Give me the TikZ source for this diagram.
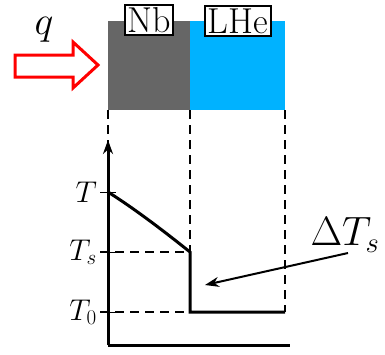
\RequirePackage{fix-cm}
\documentclass[tikz,border=0pt]{standalone}
\usetikzlibrary{arrows.meta}
\definecolor{nbgray}{RGB}{102,102,102}
\definecolor{lhe}{RGB}{0,178,255}
\tikzset{
  lbox/.style={draw=black,fill=white,line width=1.8pt,inner sep=2.5pt,font=\fontsize{36}{38}\selectfont},
  dsh/.style={dashed,dash pattern=on 9pt off 6pt,line width=1.2pt},
  thick3/.style={line width=3pt},
  ticklab/.style={anchor=east,font=\fontsize{30}{32}\selectfont,inner sep=0pt},
}
\begin{document}
\begin{tikzpicture}[x=1pt,y=-1pt]
\useasboundingbox (0,0) rectangle (385,354);
% blocks
\fill[nbgray] (108,21) rectangle (190,110);
\fill[lhe] (190,21) rectangle (285,110);
\node[lbox] (nb) at (149,20) {Nb};
\node[lbox] (lhe) at (238,21) {LHe};
% heat flux arrow
\draw[red,line width=3pt,line join=miter] (15,55) -- (73,55) -- (73,42) -- (98,65) -- (73,88) -- (73,77) -- (15,77) -- cycle;
\node[font=\fontsize{40}{40}\selectfont,inner sep=0pt] (q) at (44,30) {$q$};
% coordinates
\coordinate (o) at (108,345);
\coordinate (top) at (108,140);
\coordinate (xend) at (290,345);
\coordinate (t) at (108,192);
\coordinate (ts) at (190,252);
\coordinate (tsl) at (100,252);
\coordinate (ts0) at (190,312);
\coordinate (t0l) at (100,312);
\coordinate (t0e) at (285,312);
% dashed guides
\draw[dsh] (108,110) -- (108,345);
\draw[dsh] (190,110) -- (ts);
\draw[dsh] (285,110) -- (t0e);
\draw[dsh] (tsl) -- (ts);
\draw[dsh] (t0l) -- (ts0);
% axes
\draw[thick3,-{Stealth[length=14pt,width=10pt]}] (o) -- (top);
\draw[thick3] (o) -- (xend);
% ticks
\draw[line width=1pt] (100,192) -- (116,192);
\draw[line width=1pt] (100,252) -- (116,252);
\draw[line width=1pt] (100,312) -- (116,312);
\node[ticklab] (lt) at (97,192) {$T$};
\node[ticklab] (lts) at (97,252) {$T_s$};
\node[ticklab] (lt0) at (97,312) {$T_0$};
% temperature profile
\draw[thick3,line join=miter] (t) .. controls (135,209) and (165,232) .. (ts) -- (ts0) -- (t0e);
% delta Ts
\node[font=\fontsize{41}{41}\selectfont,inner sep=0pt] (dts) at (345,235) {$\Delta T_s$};
\coordinate (as) at (348,253);
\coordinate (ae) at (205,285);
\draw[line width=2pt,-{Stealth[length=14pt,width=10pt]}] (as) -- (ae);
\end{tikzpicture}
\end{document}
